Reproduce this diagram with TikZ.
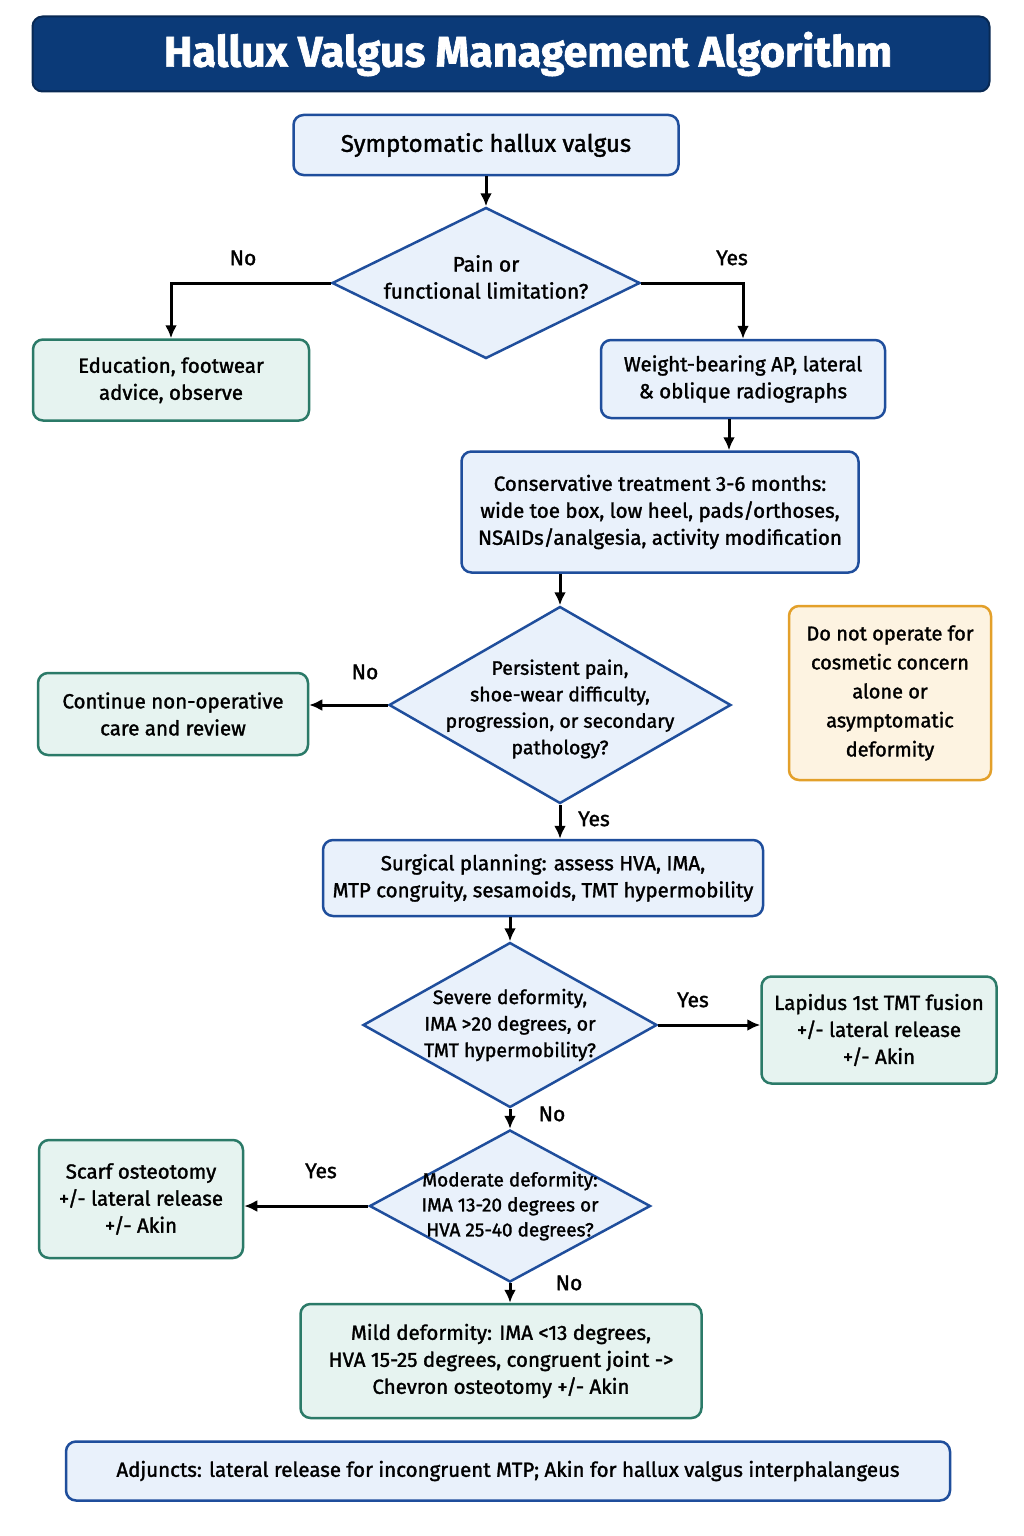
\documentclass[tikz,border=0pt]{standalone}
\usepackage{fontspec}
\setmainfont{Fira Sans}[FakeBold=1.5]
\usetikzlibrary{shapes,arrows.meta,positioning,calc}
\definecolor{navy}{HTML}{0B3A78}
\definecolor{boxblue}{HTML}{1F4E9C}
\definecolor{fillblue}{HTML}{E9F1FB}
\definecolor{boxteal}{HTML}{2B7A68}
\definecolor{fillteal}{HTML}{E6F3F0}
\definecolor{boxorange}{HTML}{E3A02A}
\definecolor{fillorange}{HTML}{FDF3E1}
\tikzset{
	title/.style = {draw=navy!70!black, fill=navy, text=white, line width=2pt, rounded corners=10pt, font=\fontsize{43}{46}\selectfont\bfseries},
	bluebox/.style = {draw=boxblue, fill=fillblue, line width=2.5pt, rounded corners=10pt, align=center, inner sep=4pt, font=\fontsize{20.5}{27}\selectfont},
	tealbox/.style = {bluebox, draw=boxteal, fill=fillteal},
	notebox/.style = {bluebox, draw=boxorange, fill=fillorange, font=\fontsize{20}{29}\selectfont},
	decision/.style = {diamond, draw=boxblue, fill=fillblue, line width=2.5pt, inner sep=0pt},
	dtext/.style = {align=center, font=\fontsize{19.5}{26.5}\selectfont},
	line/.style = {draw, line width=3pt, -{Latex[length=13pt,width=12pt]}},
	lbl/.style = {font=\fontsize{21}{24}\selectfont}
}
\begin{document}
\begin{tikzpicture}[x=1pt,y=-1pt]
	\fill[white] (0,0) rectangle (1024,1536);
	\useasboundingbox (0,0) rectangle (1024,1536);
	\node[title, minimum width=957pt, minimum height=75pt] (head) at (511,54) {\hspace{34pt}Hallux Valgus Management Algorithm};
	% first decision
	\node[bluebox, minimum width=385pt, minimum height=60pt, font=\fontsize{24}{28}\selectfont] (start) at (486,145) {Symptomatic hallux valgus};
	\node[decision, minimum width=308pt, minimum height=151pt, label={[dtext, yshift=6pt, font=\fontsize{21}{27}\selectfont]center:Pain or\\functional limitation?}] (d1) at (486,283) {};
	\node[tealbox, minimum width=276pt, minimum height=81pt] (edu) at (171,380) {Education, footwear\\advice, observe};
	\node[bluebox, minimum width=284pt, minimum height=78pt] (xray) at (743,379) {Weight-bearing AP, lateral\\\& oblique radiographs};
	\node[bluebox, minimum width=397pt, minimum height=121pt] (cons) at (660,512) {Conservative treatment 3-6 months:\\wide toe box, low heel, pads/orthoses,\\NSAIDs/analgesia, activity modification};
	% second decision
	\node[decision, minimum width=342pt, minimum height=197pt, label={[dtext, yshift=-4pt]center:Persistent pain,\\shoe-wear difficulty,\\progression, or secondary\\pathology?}] (d2) at (560,705) {};
	\node[tealbox, minimum width=270pt, minimum height=82pt] (cont) at (173,714) {Continue non-operative\\care and review};
	\node[notebox, minimum width=202pt, minimum height=174pt] (note) at (890,693) {Do not operate for\\cosmetic concern\\alone or\\asymptomatic\\deformity};
	\node[bluebox, minimum width=440pt, minimum height=76pt] (plan) at (543,878) {Surgical planning: assess HVA, IMA,\\MTP congruity, sesamoids, TMT hypermobility};
	% grading of deformity
	\node[decision, minimum width=294pt, minimum height=165pt, label={[dtext]center:Severe deformity,\\IMA >20 degrees, or\\TMT hypermobility?}] (d3) at (510,1025) {};
	\node[tealbox, minimum width=235pt, minimum height=107pt] (lap) at (879,1030) {Lapidus 1st TMT fusion\\+/- lateral release\\+/- Akin};
	\node[decision, minimum width=281pt, minimum height=152pt, label={[dtext, font=\fontsize{19}{25}\selectfont]center:Moderate deformity:\\IMA 13-20 degrees or\\HVA 25-40 degrees?}] (d4) at (510,1206) {};
	\node[tealbox, minimum width=204pt, minimum height=118pt] (scarf) at (141,1199) {Scarf osteotomy\\+/- lateral release\\+/- Akin};
	\node[tealbox, minimum width=401pt, minimum height=114pt] (mild) at (501,1361) {Mild deformity: IMA <13 degrees,\\HVA 15-25 degrees, congruent joint ->\\Chevron osteotomy +/- Akin};
	\node[bluebox, minimum width=884pt, minimum height=59pt] (adj) at (508,1471) {Adjuncts: lateral release for incongruent MTP; Akin for hallux valgus interphalangeus};
	% connectors
	\draw[line] (start.south) -- (d1.north);
	\draw[line] (d1.west) -| (edu.north);
	\draw[line] (d1.east) -| (xray.north);
	\draw[line] ([xshift=-14pt]xray.south) -- ([xshift=-14pt]xray.south |- cons.north);
	\draw[line] (cons.south -| d2.north) -- (d2.north);
	\draw[line] (d2.west) -- (d2.west -| cont.east);
	\draw[line] (d2.south) -- (d2.south |- plan.north);
	\draw[line] (plan.south -| d3.north) -- (d3.north);
	\draw[line] (d3.east) -- (d3.east -| lap.west);
	\draw[line] (d3.south) -- (d4.north);
	\draw[line] (d4.west) -- (d4.west -| scarf.east);
	\draw[line] (d4.south) -- (d4.south |- mild.north);
	% branch labels
	\node[lbl] (no1) at (243,258) {No};
	\node[lbl] (yes1) at (732,258) {Yes};
	\node[lbl] (no2) at (365,672) {No};
	\node[lbl] (yes2) at (594,819) {Yes};
	\node[lbl] (yes3) at (693,1000) {Yes};
	\node[lbl] (no3) at (552,1114) {No};
	\node[lbl] (yes4) at (321,1171) {Yes};
	\node[lbl] (no4) at (569,1283) {No};
\end{tikzpicture}
\end{document}
